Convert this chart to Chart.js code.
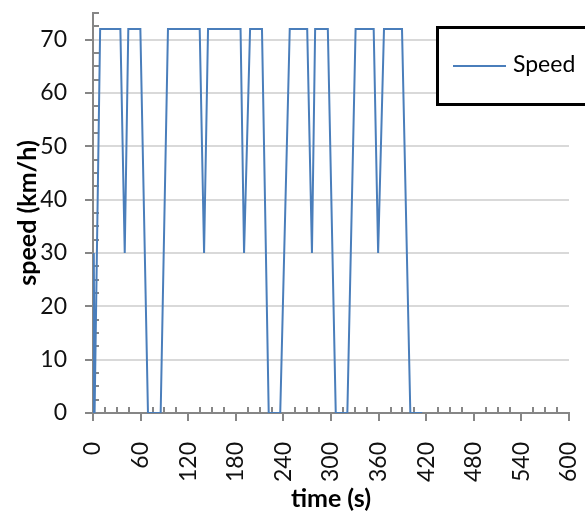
<!DOCTYPE html>
<html>
<head>
<meta charset="utf-8">
<script src="https://cdn.jsdelivr.net/npm/chart.js@4.4.0/dist/chart.umd.min.js"></script>
<style>
    html, body { margin: 0; padding: 0; background: #fff; }
    #wrap { width: 585px; height: 515px; }
</style>
</head>
<body>
<div id="wrap"><canvas id="chart" width="585" height="515"></canvas></div>
<script>
// speed trace
var timeS = [0, 1, 2, 9, 34.5, 40, 44.5, 59.7, 69.3, 85.3, 94.5, 134.5, 140, 145, 186, 190.4, 198, 213, 221.5,
    236, 248, 270, 276, 280, 296, 306, 320.6, 331, 353.8, 359.4, 366.8, 389.5, 400, 415];
var speedKmh = [0, 30, 0, 72, 72, 30, 72, 72, 0, 0, 72, 72, 30, 72, 72, 30, 72, 72, 0,
    0, 72, 72, 30, 72, 72, 0, 0, 72, 72, 30, 72, 72, 0, 0];
var seriesName = 'Speed';
var xTitle = 'time (s)';
var yTitle = 'speed (km/h)';

var axisGray = '#868686';
var lineBlue = '#4a7ebb';

var points = [];
for (var i = 0; i < timeS.length; i++) {
    points.push({ x: timeS[i], y: speedKmh[i] });
}

function noOverhang(scale) {
    scale.paddingTop = 0;
    scale.paddingBottom = 0;
    scale.paddingLeft = 0;
    scale.paddingRight = 0;
}

// excel style ticks: major ones outside, minor ones inside
var tickMarks = {
    id: 'tickMarks',
    beforeDatasetsDraw: function(chart) {
        var ctx = chart.ctx;
        var xs = chart.scales.x, ys = chart.scales.y;
        var x0 = xs.getPixelForValue(0), y0 = ys.getPixelForValue(0);
        ctx.save();
        ctx.strokeStyle = axisGray;
        ctx.lineWidth = 2;
        ctx.beginPath();
        for (var t = 0; t <= 600; t += 15) {
            var px = Math.round(xs.getPixelForValue(t));
            if (t % 60 === 0) {
                ctx.moveTo(px, y0); ctx.lineTo(px, y0 + 8);
            } else {
                ctx.moveTo(px, y0); ctx.lineTo(px, y0 - 6);
            }
        }
        for (var v = 0; v <= 75; v += 2.5) {
            var py = Math.round(ys.getPixelForValue(v));
            if (v % 10 === 0) {
                ctx.moveTo(x0, py); ctx.lineTo(x0 - 8, py);
            } else {
                ctx.moveTo(x0, py); ctx.lineTo(x0 + 6, py);
            }
        }
        ctx.stroke();
        ctx.restore();
    }
};

// boxed legend sitting over the top right of the plot
var boxLegend = {
    id: 'boxLegend',
    afterDraw: function(chart) {
        var ctx = chart.ctx;
        var ds = chart.data.datasets[0];
        ctx.save();
        ctx.fillStyle = '#fff';
        ctx.fillRect(437, 27, 160, 78);
        ctx.strokeStyle = '#000';
        ctx.lineWidth = 3;
        ctx.strokeRect(437.5, 27.5, 160, 77);
        ctx.strokeStyle = ds.borderColor;
        ctx.lineWidth = 2;
        ctx.beginPath();
        ctx.moveTo(453, 66);
        ctx.lineTo(506, 66);
        ctx.stroke();
        ctx.fillStyle = '#000';
        ctx.font = '23px Lato';
        ctx.textBaseline = 'middle';
        ctx.fillText(ds.label, 513, 65);
        ctx.restore();
    }
};

new Chart(document.getElementById('chart'), {
    type: 'line',
    data: {
        datasets: [{
            label: seriesName,
            data: points,
            borderColor: lineBlue,
            borderWidth: 2,
            pointRadius: 0,
            tension: 0,
            fill: false
        }]
    },
    options: {
        responsive: false,
        animation: false,
        layout: { padding: { top: 13, right: 16, left: 0, bottom: 0 } },
        plugins: {
            legend: { display: false },
            tooltip: { enabled: false }
        },
        scales: {
            x: {
                type: 'linear',
                min: 0,
                max: 600,
                afterFit: function(scale) { scale.height = 102; noOverhang(scale); },
                ticks: {
                    stepSize: 60,
                    minRotation: 90,
                    maxRotation: 90,
                    padding: 29,
                    color: '#111',
                    font: { family: 'Lato', size: 23 }
                },
                grid: { color: 'rgba(0,0,0,0)', drawTicks: false },
                border: { color: axisGray, width: 2 },
                title: {
                    display: true,
                    text: xTitle,
                    color: '#000',
                    font: { family: 'Lato', size: 25, weight: 'bold' },
                    padding: { top: 0, bottom: 1 }
                }
            },
            y: {
                type: 'linear',
                min: 0,
                max: 75,
                afterFit: function(scale) { scale.width = 93; noOverhang(scale); },
                ticks: {
                    stepSize: 10,
                    includeBounds: false,
                    padding: 26,
                    color: '#111',
                    font: { family: 'Lato', size: 23 }
                },
                grid: { color: '#d9d9d9', lineWidth: 2, drawTicks: false },
                border: { color: axisGray, width: 2 },
                title: {
                    display: true,
                    text: yTitle,
                    color: '#000',
                    font: { family: 'Lato', size: 25, weight: 'bold' },
                    padding: { top: 13, bottom: 0 }
                }
            }
        }
    },
    plugins: [tickMarks, boxLegend]
});
</script>
</body>
</html>
